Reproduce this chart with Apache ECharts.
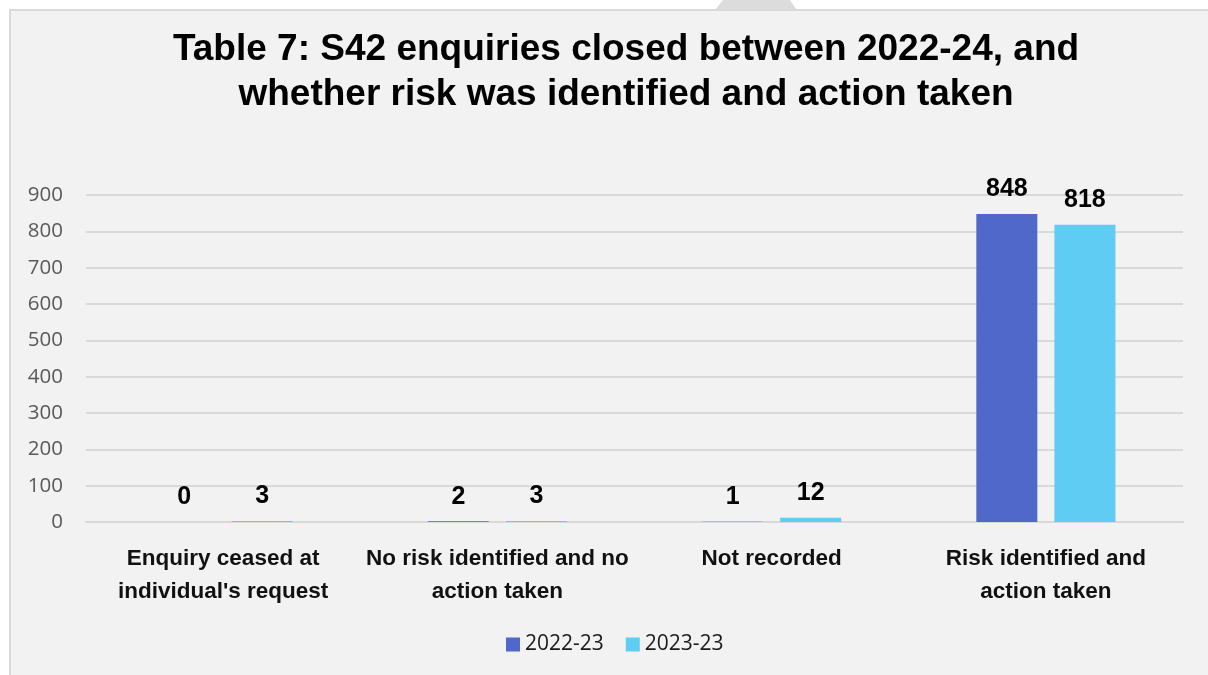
<!DOCTYPE html>
<html>
<head>
<meta charset="utf-8">
<script src="https://cdn.jsdelivr.net/npm/echarts@6/dist/echarts.min.js"></script>
<style>
  html, body { margin: 0; padding: 0; background: #fff; }
  #chart { width: 1208px; height: 675px; }
</style>
</head>
<body>
<div id="chart"></div>
<script>
// data
const categories = [
  "Enquiry ceased at\nindividual's request",
  "No risk identified and no\naction taken",
  "Not recorded",
  "Risk identified and\naction taken",
];
const seriesNames = ["2022-23", "2023-23"];
const values2022 = [0, 2, 1, 848];
const values2023 = [3, 3, 12, 818];
const yTicks = { min: 0, max: 900, interval: 100 };

const colors = ["#4F68C9", "#5FCCF3"];

const chart = echarts.init(document.getElementById("chart"));

const labelStyle = {
  show: true,
  position: "top",
  distance: 12,
  color: "#000",
  fontFamily: "Liberation Sans, Arial, sans-serif",
  fontWeight: "bold",
  fontSize: 25,
};

const option = {
  backgroundColor: "#fff",
  animation: false,
  graphic: [
    {
      type: "rect",
      z: -10,
      shape: { x: 10, y: 10, width: 1210, height: 680 },
      style: { fill: "#f2f2f2", stroke: "#d9d9d9", lineWidth: 2 },
    },
    {
      type: "polygon",
      z: -9,
      shape: { points: [[723, 0], [790, 0], [796, 9], [716, 9]] },
      style: { fill: "#dcdcdc" },
    },
  ],
  title: {
    text: "Table 7: S42 enquiries closed between 2022-24, and\nwhether risk was identified and action taken",
    left: 621,
    textAlign: "center",
    top: 22,
    textStyle: {
      fontFamily: "Liberation Sans, Arial, sans-serif",
      fontWeight: "bold",
      fontSize: 37,
      lineHeight: 45,
      color: "#000",
    },
  },
  legend: {
    data: seriesNames,
    top: 629,
    left: 501,
    itemWidth: 14,
    itemHeight: 14,
    itemGap: 22,
    icon: "rect",
    textStyle: {
      fontFamily: "Open Sans, Noto Sans, sans-serif",
      fontSize: 21,
      color: "#1a1a1a",
    },
  },
  grid: {
    left: 86,
    right: 25,
    top: 195,
    bottom: 153,
    containLabel: false,
  },
  xAxis: {
    type: "category",
    data: categories,
    axisLine: { show: true, lineStyle: { color: "#d9d9d9", width: 2 } },
    axisTick: { show: false },
    axisLabel: {
      interval: 0,
      margin: 20,
      color: "#111",
      fontFamily: "Liberation Sans, Arial, sans-serif",
      fontWeight: "bold",
      fontSize: 22.5,
      lineHeight: 33,
    },
  },
  yAxis: {
    type: "value",
    min: yTicks.min,
    max: yTicks.max,
    interval: yTicks.interval,
    axisLine: { show: false },
    axisTick: { show: false },
    splitLine: { lineStyle: { color: "#d9d9d9", width: 2 } },
    axisLabel: {
      margin: 23,
      color: "#595959",
      fontFamily: "Open Sans, Noto Sans, sans-serif",
      fontSize: 20.5,
    },
  },
  series: [
    {
      name: seriesNames[0],
      type: "bar",
      data: values2022,
      barWidth: 61,
      barGap: "28%",
      itemStyle: { color: colors[0] },
      label: labelStyle,
    },
    {
      name: seriesNames[1],
      type: "bar",
      data: values2023,
      barWidth: 61,
      barGap: "28%",
      itemStyle: { color: colors[1] },
      label: labelStyle,
    },
  ],
};

chart.setOption(option);
</script>
</body>
</html>
